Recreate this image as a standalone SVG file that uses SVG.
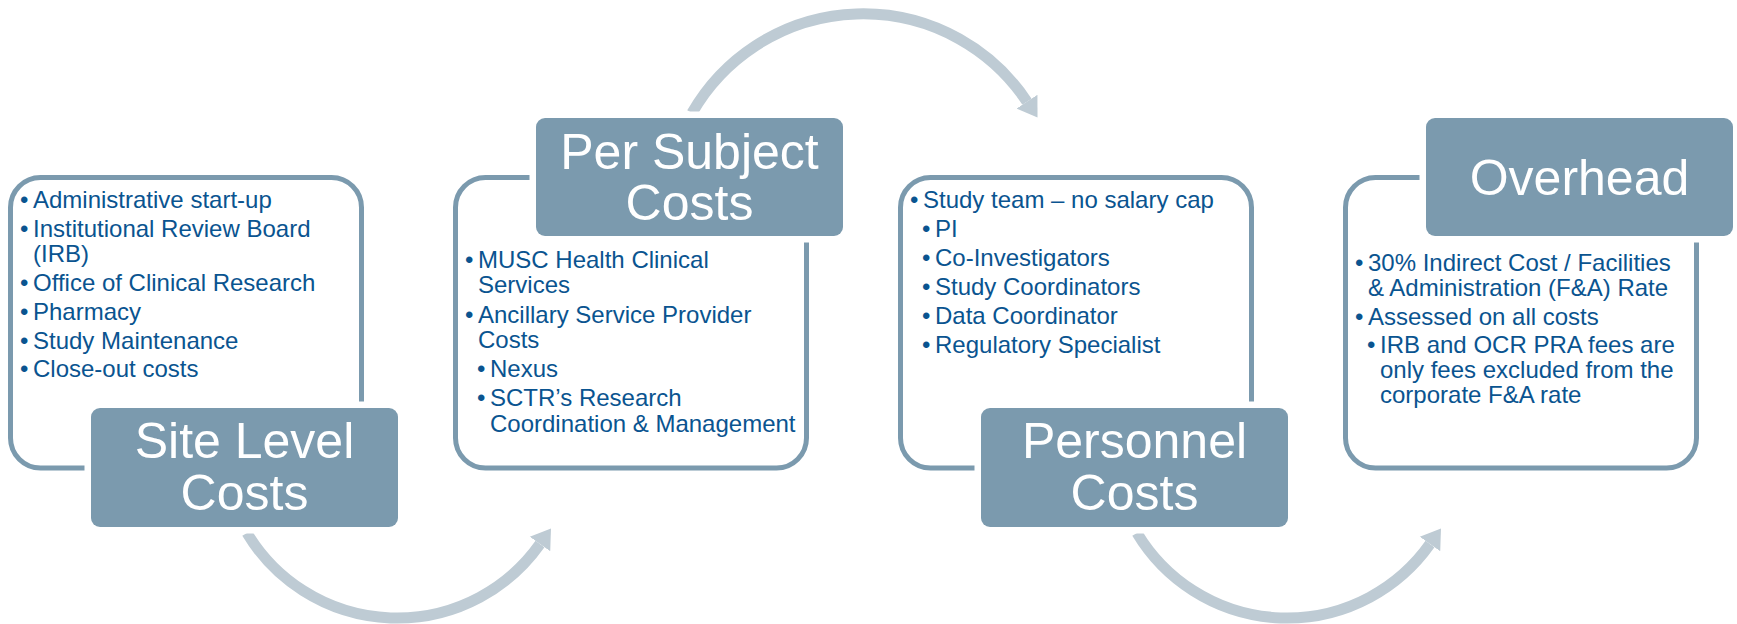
<svg xmlns="http://www.w3.org/2000/svg" width="1737" height="624" viewBox="0 0 1737 624">
<style>
.frame{fill:#fff;stroke:#7b9aae;stroke-width:5}
.label{fill:#7b9aae;stroke:#fff;stroke-width:13;paint-order:stroke}
.title{font-family:"Liberation Sans",Arial,sans-serif;font-size:50px;fill:#fff;text-anchor:middle}
.body{font-family:"Liberation Sans",Arial,sans-serif;font-size:24px;fill:#0a5490}
.arc{fill:none;stroke:#becbd4;stroke-width:11}
</style>
<defs>
<marker id="ah" markerUnits="userSpaceOnUse" markerWidth="20" markerHeight="26" viewBox="0 -13 20 26" refX="0" refY="0" orient="auto">
<path d="M0,-12.5 L19,0 L0,12.5 z" fill="#becbd4"/>
</marker>
</defs>
<rect width="1737" height="624" fill="#fff"/>
<g id="connectors">
<path class="arc" d="M247,533 A175,175 0 0,0 540,544" marker-end="url(#ah)"/>
<path class="arc" d="M692,113 A197,197 0 0,1 1027,101.7" marker-end="url(#ah)"/>
<path class="arc" d="M1137,533 A175,175 0 0,0 1430,544" marker-end="url(#ah)"/>
</g>
<g id="site-level">
<rect class="frame" x="10.5" y="177.5" width="351" height="290.5" rx="30"/>
<text class="body"><tspan x="20" y="208">•</tspan><tspan x="33" y="208">Administrative start-up</tspan></text>
<text class="body"><tspan x="20" y="237">•</tspan><tspan x="33" y="237">Institutional Review Board</tspan><tspan x="33" y="262">(IRB)</tspan></text>
<text class="body"><tspan x="20" y="291">•</tspan><tspan x="33" y="291">Office of Clinical Research</tspan></text>
<text class="body"><tspan x="20" y="320">•</tspan><tspan x="33" y="320">Pharmacy</tspan></text>
<text class="body"><tspan x="20" y="349">•</tspan><tspan x="33" y="349">Study Maintenance</tspan></text>
<text class="body"><tspan x="20" y="377">•</tspan><tspan x="33" y="377">Close-out costs</tspan></text>
<rect class="label" x="91" y="408" width="307" height="119" rx="9"/>
<text class="title" x="244.5" y="458">Site Level</text>
<text class="title" x="244.5" y="510">Costs</text>
</g>
<g id="per-subject">
<rect class="frame" x="455.5" y="177.5" width="351" height="290.5" rx="30"/>
<text class="body"><tspan x="465" y="268">•</tspan><tspan x="478" y="268">MUSC Health Clinical</tspan><tspan x="478" y="293">Services</tspan></text>
<text class="body"><tspan x="465" y="323">•</tspan><tspan x="478" y="323">Ancillary Service Provider</tspan><tspan x="478" y="348">Costs</tspan></text>
<text class="body"><tspan x="477" y="377">•</tspan><tspan x="490" y="377">Nexus</tspan></text>
<text class="body"><tspan x="477" y="406">•</tspan><tspan x="490" y="406">SCTR’s Research</tspan><tspan x="490" y="432">Coordination &amp; Management</tspan></text>
<rect class="label" x="536" y="118" width="307" height="118" rx="9"/>
<text class="title" x="689.5" y="169">Per Subject</text>
<text class="title" x="689.5" y="220">Costs</text>
</g>
<g id="personnel">
<rect class="frame" x="900.5" y="177.5" width="351" height="290.5" rx="30"/>
<text class="body"><tspan x="910" y="208">•</tspan><tspan x="923" y="208">Study team – no salary cap</tspan></text>
<text class="body"><tspan x="922" y="237">•</tspan><tspan x="935" y="237">PI</tspan></text>
<text class="body"><tspan x="922" y="266">•</tspan><tspan x="935" y="266">Co-Investigators</tspan></text>
<text class="body"><tspan x="922" y="295">•</tspan><tspan x="935" y="295">Study Coordinators</tspan></text>
<text class="body"><tspan x="922" y="324">•</tspan><tspan x="935" y="324">Data Coordinator</tspan></text>
<text class="body"><tspan x="922" y="353">•</tspan><tspan x="935" y="353">Regulatory Specialist</tspan></text>
<rect class="label" x="981" y="408" width="307" height="119" rx="9"/>
<text class="title" x="1134.5" y="458">Personnel</text>
<text class="title" x="1134.5" y="510">Costs</text>
</g>
<g id="overhead">
<rect class="frame" x="1345.5" y="177.5" width="351" height="290.5" rx="30"/>
<text class="body"><tspan x="1355" y="271">•</tspan><tspan x="1368" y="271">30% Indirect Cost / Facilities</tspan><tspan x="1368" y="296">&amp; Administration (F&amp;A) Rate</tspan></text>
<text class="body"><tspan x="1355" y="325">•</tspan><tspan x="1368" y="325">Assessed on all costs</tspan></text>
<text class="body"><tspan x="1367" y="353">•</tspan><tspan x="1380" y="353">IRB and OCR PRA fees are</tspan><tspan x="1380" y="378">only fees excluded from the</tspan><tspan x="1380" y="403">corporate F&amp;A rate</tspan></text>
<rect class="label" x="1426" y="118" width="307" height="118" rx="9"/>
<text class="title" x="1579.5" y="195">Overhead</text>
</g>
</svg>
